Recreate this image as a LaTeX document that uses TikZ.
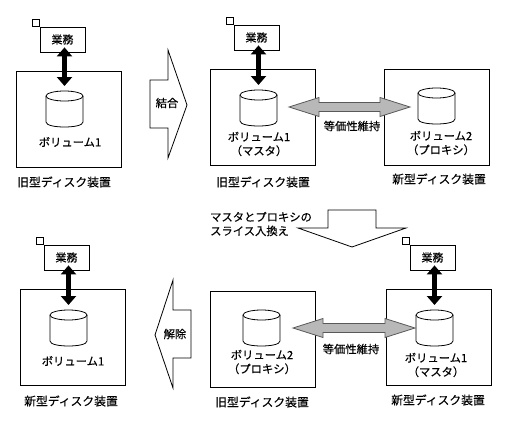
\documentclass[tikz,border=0pt]{standalone}
\usepackage{fontspec}
\setmainfont{Noto Sans CJK JP}
\newfontfamily\heavyfont{Noto Sans CJK JP}[RawFeature={embolden=0.35}]
\usetikzlibrary{arrows.meta,calc}
\tikzset{
  panel/.style={draw,line width=.8pt,minimum width=105pt,minimum height=96pt,inner sep=0pt},
  biz/.style={draw,line width=.8pt,fill=white,minimum width=45pt,minimum height=25pt,inner sep=0pt,font=\heavyfont\fontsize{11}{11}\selectfont},
  sq/.style={draw,line width=.8pt,fill=white,minimum size=7pt,inner sep=0pt},
  diskbox/.style={minimum width=37pt,minimum height=36pt,inner sep=0pt},
  diskline/.style={line width=.8pt},
  lbl/.style={inner sep=0pt,align=center,font=\heavyfont\fontsize{11.3}{14}\selectfont},
  captext/.style={inner sep=0pt,font=\heavyfont\fontsize{11.8}{14}\selectfont},
  bigarrow/.style={line width=5.5pt,{Triangle[length=9pt,width=15pt]}-{Triangle[length=9pt,width=15pt]}},
  grayarrow/.style={draw=black!65,line width=.8pt,fill=black!28},
  block/.style={draw,line width=.8pt,fill=white},
}
\newcommand{\grayarr}[2]{%
  \draw[grayarrow] (#1) -- ($(#1)+(30,-9.5)$) -- ($(#1)+(30,-4.5)$) -- ($(#2)+(-30,-4.5)$) -- ($(#2)+(-30,-9.5)$) -- (#2) -- ($(#2)+(-30,9.5)$) -- ($(#2)+(-30,4.5)$) -- ($(#1)+(30,4.5)$) -- ($(#1)+(30,9.5)$) -- cycle;}
\newcommand{\disk}[3]{%
  \node[diskbox] (#1) at (#2,#3) {};
  \draw[diskline] ($(#1.center)+(0,-13)$) ellipse [x radius=18.5,y radius=5];
  \draw[diskline] ($(#1.center)+(-18.5,-13)$) -- ($(#1.center)+(-18.5,13)$) .. controls ($(#1.center)+(-18.5,16.5)$) and ($(#1.center)+(-9,18)$) .. ($(#1.center)+(0,18)$) .. controls ($(#1.center)+(9,18)$) and ($(#1.center)+(18.5,16.5)$) .. ($(#1.center)+(18.5,13)$) -- ($(#1.center)+(18.5,-13)$);}
\begin{document}
\begin{tikzpicture}[x=1pt,y=-1pt]
\useasboundingbox (0,0) rectangle (511,423);
% panels
\node[panel] (p1) at (68.5,119) {};
\node[panel] (p2) at (262.5,117) {};
\node[panel] (p3) at (436.5,117) {};
\node[panel] (p4) at (72.5,337) {};
\node[panel] (p5) at (262.5,339) {};
\node[panel] (p6) at (438.5,337) {};
% disks
\disk{d1}{64.5}{109}
\disk{d2}{258.5}{108}
\disk{d3}{436.5}{106}
\disk{d4}{68.5}{328}
\disk{d5}{261.5}{328}
\disk{d6}{434.5}{328}
% business boxes
\node[biz] (b1) at (62.5,39.5) {業務};
\node[biz] (b2) at (256.5,37.5) {業務};
\node[biz] (b4) at (66.5,257.5) {業務};
\node[biz] (b6) at (432.5,257.5) {業務};
\node[sq] (s1) at (35.5,22.5) {};
\node[sq] (s2) at (229.5,21) {};
\node[sq] (s4) at (39.5,241) {};
\node[sq] (s6) at (405.5,241) {};
% black arrows
\foreach \b/\d in {b1/d1,b2/d2,b4/d4,b6/d6}{
  \path (\d.center) ++(0,-23) coordinate (e\b);
  \path (\b.south) ++(2,-5) coordinate (f\b);
  \draw[bigarrow] (f\b) -- (f\b |- e\b);
}
% gray arrows
\coordinate (gl1) at (289,107);
\coordinate (gr1) at (410,107);
\coordinate (gl2) at (293,328);
\coordinate (gr2) at (415,328);
\grayarr{gl1}{gr1}
\grayarr{gl2}{gr2}
% block arrows
\draw[block] (150,80) -- (168,80) -- (168,50) -- (187,105) -- (168,158) -- (168,128) -- (150,128) -- cycle;
\draw[block] (191,310) -- (173,310) -- (173,280) -- (155,335) -- (173,388) -- (173,358) -- (191,358) -- cycle;
\draw[block] (328,210) -- (376,210) -- (376,228) -- (406,228) -- (352,247) -- (298,228) -- (328,228) -- cycle;
% labels
\node[lbl] (t1) at (70,142) {ボリューム1};
\node[lbl] (t2) at (259,144) {ボリューム1\\（マスタ）};
\node[lbl] (t3) at (441,143) {ボリューム2\\（プロキシ）};
\node[lbl] (t4) at (73,361) {ボリューム1};
\node[lbl] (t5) at (262,362) {ボリューム2\\（プロキシ）};
\node[lbl] (t6) at (436,365) {ボリューム1\\（マスタ）};
\node[captext] (c1) at (64,182) {旧型ディスク装置};
\node[captext] (c2) at (263,182) {旧型ディスク装置};
\node[captext] (c3) at (439,179) {新型ディスク装置};
\node[captext] (c4) at (71,401) {新型ディスク装置};
\node[captext] (c5) at (262,402) {旧型ディスク装置};
\node[captext] (c6) at (438,400) {新型ディスク装置};
\node[lbl] (a1) at (167,103) {結合};
\node[lbl] (a2) at (175,334) {解除};
\node[lbl] (e1) at (352,126) {等価性維持};
\node[lbl] (e2) at (351,349) {等価性維持};
\node[lbl,align=left,anchor=west] (sw) at (210,224) {マスタとプロキシの\\スライス入換え};
\end{tikzpicture}
\end{document}
